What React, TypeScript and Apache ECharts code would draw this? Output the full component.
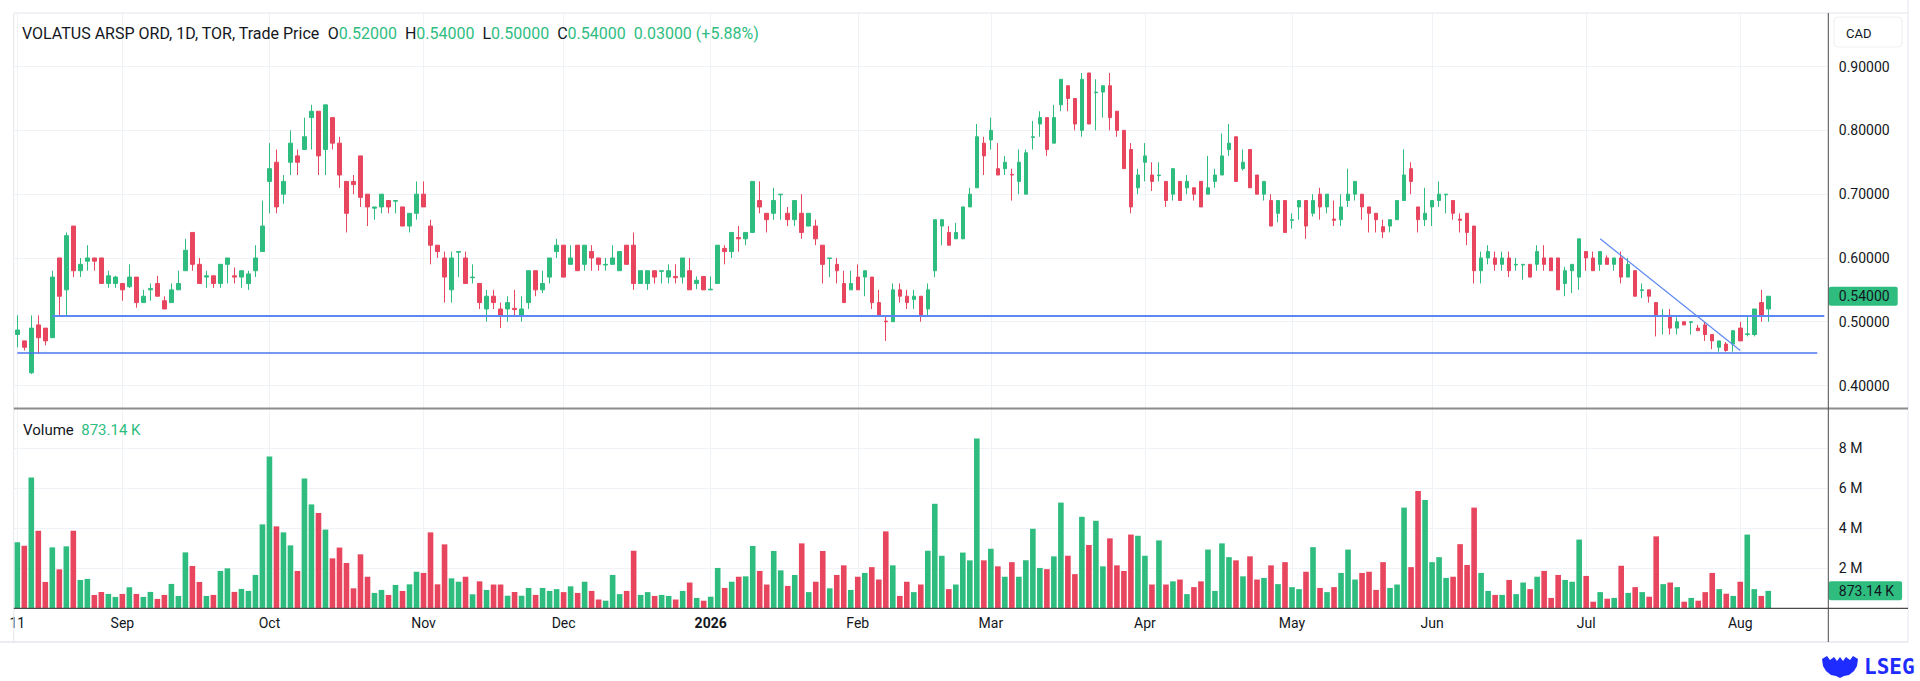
import React, { useEffect, useRef } from "react";
import * as echarts from "echarts";

// ---------- DATA ----------
const OPEN = [
  0.48, 0.47, 0.42, 0.495, 0.49, 0.475, 0.60, 0.55, 0.65, 0.58,
  0.595, 0.60, 0.60, 0.56, 0.56, 0.56, 0.555, 0.57, 0.53, 0.55,
  0.56, 0.533, 0.53, 0.55, 0.58, 0.64, 0.59, 0.57, 0.572, 0.56,
  0.59, 0.572, 0.57, 0.56, 0.58, 0.61, 0.72, 0.75, 0.70, 0.75,
  0.76, 0.77, 0.82, 0.83, 0.77, 0.82, 0.78, 0.72, 0.72, 0.76,
  0.70, 0.678, 0.68, 0.69, 0.689, 0.68, 0.65, 0.67, 0.70, 0.65,
  0.62, 0.60, 0.55, 0.609, 0.60, 0.569, 0.56, 0.52, 0.54, 0.52,
  0.52, 0.521, 0.51, 0.53, 0.58, 0.55, 0.57, 0.61, 0.62, 0.59,
  0.62, 0.59, 0.61, 0.60, 0.589, 0.59, 0.58, 0.62, 0.62, 0.56,
  0.56, 0.58, 0.579, 0.57, 0.571, 0.57, 0.58, 0.56, 0.571, 0.55,
  0.56, 0.615, 0.61, 0.632, 0.63, 0.64, 0.69, 0.67, 0.67, 0.699,
  0.67, 0.66, 0.67, 0.65, 0.65, 0.62, 0.599, 0.59, 0.56, 0.55,
  0.57, 0.57, 0.57, 0.53, 0.501, 0.50, 0.55, 0.54, 0.535, 0.54,
  0.52, 0.58, 0.65, 0.64, 0.63, 0.63, 0.68, 0.71, 0.78, 0.785,
  0.74, 0.74, 0.731, 0.72, 0.70, 0.789, 0.81, 0.82, 0.78, 0.84,
  0.87, 0.85, 0.80, 0.89, 0.859, 0.86, 0.87, 0.83, 0.80, 0.77,
  0.71, 0.75, 0.73, 0.729, 0.72, 0.70, 0.72, 0.71, 0.71, 0.72,
  0.70, 0.72, 0.73, 0.77, 0.79, 0.74, 0.77, 0.73, 0.70, 0.69,
  0.67, 0.69, 0.659, 0.68, 0.69, 0.67, 0.70, 0.68, 0.661, 0.66,
  0.69, 0.70, 0.70, 0.68, 0.67, 0.649, 0.65, 0.66, 0.69, 0.74,
  0.68, 0.66, 0.68, 0.69, 0.699, 0.69, 0.661, 0.67, 0.65, 0.58,
  0.60, 0.60, 0.59, 0.60, 0.589, 0.589, 0.59, 0.59, 0.60, 0.60,
  0.60, 0.56, 0.58, 0.57, 0.61, 0.60, 0.59, 0.60, 0.59, 0.60,
  0.57, 0.58, 0.549, 0.55, 0.53, 0.509, 0.51, 0.49, 0.50, 0.499,
  0.49, 0.495, 0.48, 0.46, 0.465, 0.465, 0.49, 0.48, 0.48, 0.53, 0.52,
];
const HIGH = [
  0.51, 0.47, 0.51, 0.51, 0.49, 0.58, 0.60, 0.64, 0.65, 0.60,
  0.62, 0.60, 0.60, 0.58, 0.572, 0.56, 0.59, 0.57, 0.55, 0.56,
  0.572, 0.54, 0.56, 0.58, 0.63, 0.64, 0.60, 0.58, 0.572, 0.59,
  0.60, 0.585, 0.58, 0.58, 0.62, 0.69, 0.78, 0.77, 0.73, 0.80,
  0.77, 0.82, 0.84, 0.83, 0.84, 0.82, 0.79, 0.72, 0.73, 0.76,
  0.70, 0.68, 0.70, 0.69, 0.69, 0.68, 0.67, 0.72, 0.72, 0.66,
  0.62, 0.61, 0.61, 0.61, 0.61, 0.59, 0.56, 0.55, 0.55, 0.53,
  0.54, 0.55, 0.54, 0.58, 0.58, 0.58, 0.60, 0.63, 0.62, 0.62,
  0.62, 0.62, 0.62, 0.60, 0.60, 0.62, 0.61, 0.62, 0.64, 0.58,
  0.58, 0.58, 0.58, 0.59, 0.59, 0.60, 0.60, 0.571, 0.571, 0.571,
  0.62, 0.62, 0.64, 0.65, 0.64, 0.72, 0.72, 0.67, 0.71, 0.70,
  0.68, 0.69, 0.70, 0.67, 0.66, 0.62, 0.60, 0.60, 0.58, 0.58,
  0.59, 0.58, 0.57, 0.55, 0.51, 0.56, 0.56, 0.55, 0.55, 0.54,
  0.56, 0.66, 0.66, 0.65, 0.655, 0.68, 0.71, 0.81, 0.79, 0.82,
  0.78, 0.76, 0.74, 0.77, 0.77, 0.815, 0.83, 0.82, 0.84, 0.88,
  0.87, 0.85, 0.89, 0.89, 0.88, 0.87, 0.89, 0.83, 0.80, 0.78,
  0.74, 0.78, 0.75, 0.75, 0.72, 0.74, 0.72, 0.73, 0.71, 0.72,
  0.76, 0.74, 0.795, 0.81, 0.79, 0.77, 0.77, 0.73, 0.72, 0.70,
  0.69, 0.69, 0.67, 0.69, 0.69, 0.70, 0.71, 0.70, 0.69, 0.70,
  0.74, 0.72, 0.70, 0.68, 0.67, 0.66, 0.66, 0.69, 0.77, 0.75,
  0.68, 0.71, 0.69, 0.72, 0.70, 0.69, 0.67, 0.67, 0.65, 0.61,
  0.62, 0.61, 0.61, 0.61, 0.60, 0.59, 0.59, 0.62, 0.62, 0.60,
  0.60, 0.586, 0.59, 0.63, 0.61, 0.61, 0.61, 0.604, 0.60, 0.61,
  0.60, 0.58, 0.56, 0.55, 0.53, 0.52, 0.52, 0.507, 0.50, 0.50,
  0.495, 0.50, 0.48, 0.47, 0.468, 0.486, 0.50, 0.51, 0.52, 0.55, 0.54,
];
const LOW = [
  0.46, 0.455, 0.418, 0.45, 0.463, 0.475, 0.51, 0.51, 0.57, 0.57,
  0.58, 0.58, 0.56, 0.553, 0.553, 0.533, 0.553, 0.522, 0.53, 0.533,
  0.54, 0.52, 0.53, 0.55, 0.58, 0.58, 0.56, 0.553, 0.553, 0.553,
  0.56, 0.56, 0.553, 0.55, 0.57, 0.61, 0.67, 0.67, 0.685, 0.73,
  0.73, 0.77, 0.77, 0.73, 0.73, 0.77, 0.71, 0.64, 0.70, 0.68,
  0.65, 0.66, 0.67, 0.67, 0.67, 0.65, 0.64, 0.66, 0.68, 0.59,
  0.60, 0.53, 0.53, 0.57, 0.56, 0.56, 0.52, 0.50, 0.52, 0.49,
  0.50, 0.51, 0.50, 0.52, 0.54, 0.545, 0.56, 0.60, 0.57, 0.59,
  0.58, 0.58, 0.58, 0.58, 0.58, 0.59, 0.58, 0.59, 0.55, 0.56,
  0.55, 0.56, 0.56, 0.56, 0.56, 0.56, 0.55, 0.551, 0.55, 0.55,
  0.56, 0.59, 0.60, 0.61, 0.62, 0.64, 0.67, 0.64, 0.66, 0.66,
  0.65, 0.65, 0.63, 0.65, 0.62, 0.56, 0.57, 0.56, 0.53, 0.55,
  0.55, 0.54, 0.52, 0.51, 0.47, 0.50, 0.53, 0.52, 0.52, 0.50,
  0.51, 0.57, 0.62, 0.62, 0.63, 0.63, 0.68, 0.71, 0.73, 0.77,
  0.73, 0.73, 0.69, 0.70, 0.70, 0.77, 0.79, 0.76, 0.78, 0.83,
  0.83, 0.80, 0.79, 0.81, 0.80, 0.82, 0.80, 0.79, 0.74, 0.67,
  0.70, 0.72, 0.705, 0.72, 0.68, 0.69, 0.69, 0.70, 0.69, 0.68,
  0.70, 0.71, 0.73, 0.76, 0.72, 0.737, 0.71, 0.70, 0.69, 0.65,
  0.656, 0.64, 0.646, 0.66, 0.63, 0.665, 0.66, 0.67, 0.65, 0.65,
  0.68, 0.69, 0.66, 0.64, 0.64, 0.631, 0.64, 0.66, 0.69, 0.70,
  0.64, 0.65, 0.65, 0.68, 0.67, 0.66, 0.64, 0.62, 0.56, 0.56,
  0.59, 0.58, 0.58, 0.57, 0.58, 0.566, 0.57, 0.58, 0.58, 0.58,
  0.55, 0.54, 0.545, 0.55, 0.58, 0.58, 0.58, 0.59, 0.58, 0.56,
  0.57, 0.54, 0.537, 0.53, 0.477, 0.48, 0.48, 0.48, 0.495, 0.48,
  0.486, 0.47, 0.457, 0.453, 0.453, 0.453, 0.47, 0.477, 0.477, 0.50, 0.50,
];
const CLOSE = [
  0.487, 0.46, 0.49, 0.475, 0.47, 0.57, 0.54, 0.635, 0.58, 0.59,
  0.60, 0.595, 0.56, 0.572, 0.57, 0.55, 0.57, 0.53, 0.54, 0.552,
  0.54, 0.52, 0.55, 0.56, 0.612, 0.59, 0.56, 0.572, 0.56, 0.59,
  0.60, 0.57, 0.58, 0.575, 0.60, 0.65, 0.74, 0.68, 0.72, 0.78,
  0.75, 0.79, 0.83, 0.76, 0.84, 0.78, 0.73, 0.67, 0.715, 0.695,
  0.68, 0.68, 0.70, 0.68, 0.69, 0.65, 0.67, 0.70, 0.68, 0.62,
  0.61, 0.57, 0.60, 0.61, 0.56, 0.57, 0.53, 0.54, 0.53, 0.51,
  0.53, 0.519, 0.52, 0.58, 0.55, 0.56, 0.60, 0.62, 0.57, 0.60,
  0.58, 0.62, 0.60, 0.59, 0.59, 0.60, 0.61, 0.59, 0.56, 0.58,
  0.58, 0.57, 0.58, 0.58, 0.569, 0.60, 0.55, 0.565, 0.55, 0.551,
  0.62, 0.61, 0.64, 0.63, 0.64, 0.72, 0.68, 0.66, 0.69, 0.70,
  0.66, 0.69, 0.64, 0.67, 0.63, 0.59, 0.60, 0.58, 0.53, 0.56,
  0.55, 0.58, 0.53, 0.51, 0.50, 0.55, 0.54, 0.53, 0.54, 0.51,
  0.55, 0.66, 0.66, 0.62, 0.64, 0.68, 0.70, 0.79, 0.76, 0.80,
  0.73, 0.75, 0.73, 0.75, 0.765, 0.79, 0.82, 0.77, 0.82, 0.88,
  0.85, 0.81, 0.88, 0.81, 0.86, 0.87, 0.82, 0.80, 0.74, 0.68,
  0.73, 0.76, 0.72, 0.73, 0.69, 0.74, 0.69, 0.72, 0.70, 0.68,
  0.71, 0.73, 0.76, 0.78, 0.72, 0.75, 0.71, 0.70, 0.72, 0.65,
  0.69, 0.64, 0.66, 0.69, 0.65, 0.69, 0.68, 0.70, 0.659, 0.68,
  0.70, 0.72, 0.68, 0.67, 0.66, 0.641, 0.66, 0.69, 0.73, 0.72,
  0.66, 0.67, 0.69, 0.70, 0.70, 0.67, 0.659, 0.64, 0.58, 0.60,
  0.61, 0.59, 0.60, 0.58, 0.59, 0.59, 0.57, 0.61, 0.59, 0.58,
  0.55, 0.58, 0.59, 0.63, 0.60, 0.58, 0.61, 0.59, 0.60, 0.57,
  0.59, 0.54, 0.55, 0.54, 0.51, 0.51, 0.49, 0.50, 0.495, 0.50,
  0.486, 0.48, 0.47, 0.47, 0.455, 0.486, 0.47, 0.481, 0.52, 0.51, 0.54,
];
// volume in millions of shares
const VOLUME_M = [
  3.3, 3.13, 6.55, 3.88, 1.32, 3.05, 1.95, 3.1, 3.88, 1.42,
  1.47, 0.67, 0.82, 0.72, 0.57, 0.72, 1.05, 0.72, 0.57, 0.82,
  0.47, 0.67, 1.22, 0.62, 2.8, 2.12, 1.32, 0.62, 0.67, 1.87,
  2.0, 0.82, 0.97, 0.87, 1.67, 4.2, 7.6, 4.1, 3.8, 3.15,
  1.87, 6.5, 5.2, 4.77, 3.94, 2.5, 3.04, 2.27, 1.0, 2.7,
  1.58, 0.77, 0.92, 0.67, 1.17, 0.87, 1.2, 1.83, 1.77, 3.8,
  1.2, 3.2, 1.5, 1.33, 1.58, 0.7, 1.35, 0.92, 1.19, 1.19,
  0.63, 0.81, 0.63, 1.02, 0.67, 1.02, 0.87, 0.96, 0.81, 1.1,
  0.77, 1.33, 0.87, 0.44, 0.38, 1.67, 0.71, 0.87, 2.88, 0.67,
  0.81, 0.62, 0.67, 0.62, 0.44, 0.87, 1.29, 0.52, 0.38, 0.58,
  2.02, 1.02, 1.33, 1.58, 1.6, 3.12, 1.87, 1.19, 2.87, 1.9,
  1.12, 1.67, 3.25, 0.81, 1.33, 2.87, 1.0, 1.67, 2.15, 0.92,
  1.58, 1.77, 2.06, 1.44, 3.85, 2.15, 0.62, 1.33, 0.81, 1.19,
  2.88, 5.23, 2.63, 0.96, 1.19, 2.79, 2.4, 8.5, 2.4, 2.98,
  2.1, 1.58, 2.31, 1.58, 2.4, 3.98, 2.02, 1.96, 2.6, 5.29,
  2.63, 1.71, 4.58, 3.17, 4.38, 2.1, 3.5, 2.15, 1.87, 3.69,
  3.63, 2.63, 1.19, 3.4, 1.19, 1.35, 1.44, 0.71, 1.06, 1.35,
  2.94, 0.87, 3.25, 2.56, 2.4, 1.6, 2.6, 1.44, 1.52, 2.15,
  1.21, 2.31, 1.06, 0.96, 1.83, 3.06, 1.02, 0.81, 1.06, 1.77,
  2.94, 1.44, 1.77, 1.83, 0.92, 2.31, 1.02, 1.19, 5.04, 2.06,
  5.87, 5.42, 2.31, 2.56, 1.52, 1.58, 3.21, 2.17, 5.04, 1.77,
  0.87, 0.67, 0.67, 1.42, 0.71, 1.29, 0.96, 1.58, 1.87, 0.52,
  1.67, 1.42, 1.33, 3.44, 1.62, 0.33, 0.81, 0.48, 0.52, 2.13,
  0.77, 1.06, 0.81, 0.58, 3.6, 1.21, 1.29, 1.06, 0.33, 0.52,
  0.38, 0.81, 1.77, 0.96, 0.73, 0.62, 1.33, 3.69, 0.96, 0.62, 0.87314,
];

const FIRST_SESSION = "2025-08-11";
const TSX_HOLIDAYS = [
  "2025-09-01", "2025-10-13", "2025-12-25", "2025-12-26", "2026-01-01",
  "2026-02-16", "2026-04-03", "2026-05-18", "2026-07-01", "2026-08-03",
];
const EMPTY_FUTURE_SLOTS = 8;
const MONTH_NAMES = ["Jan", "Feb", "Mar", "Apr", "May", "Jun", "Jul", "Aug", "Sep", "Oct", "Nov", "Dec"];
const PRICE_TICKS = [0.4, 0.5, 0.6, 0.7, 0.8, 0.9];
const VOLUME_TICKS_M = [2, 4, 6, 8];
const UPPER_LEVEL = 0.51;
const LOWER_LEVEL = 0.452;
const TREND_LINE = [[226, 0.63], [246, 0.455]];
const TITLE = "VOLATUS ARSP ORD, 1D, TOR, Trade Price";
const CURRENCY = "CAD";

// ---------- STYLE ----------
const GREEN = "#2ebd7f";
const RED = "#e8455e";
const TEXT = "#131722";
const GRID = "#eff2f7";
const FRAME = "#e3e6ec";
const DRAW_BLUE = "#5d88f3";
const FONT = "Roboto";

const L = 13.8;
const PLOT_R = 1827.8;
const PRICE_TOP = 13;
const SEP_Y = 408.5;
const VOL_BASE = 608.3;
const BOTTOM_Y = 642;
const FRAME_R = 1908;

function buildDates(count: number): string[] {
  const out: string[] = [];
  const [y, m, d] = FIRST_SESSION.split("-").map(Number);
  let t = Date.UTC(y, m - 1, d);
  while (out.length < count) {
    const dt = new Date(t);
    const dow = dt.getUTCDay();
    const s = dt.toISOString().slice(0, 10);
    if (dow !== 0 && dow !== 6 && !TSX_HOLIDAYS.includes(s)) out.push(s);
    t += 86400000;
  }
  return out;
}

let shapeRegistered = false;
function registerCrest() {
  if (shapeRegistered) return;
  shapeRegistered = true;
  const d =
    "M0 3 L5 0 L8 4 L12 1 L15 5 L18 1 L21 5 L24 1 L28 4 L31 0 L36 3 L35 10 L32 15 L27 19 L22 20 L18 22 L14 20 L9 19 L4 15 L1 10 Z";
  echarts.graphic.registerShape("lsegCrest", echarts.graphic.extendPath(d, {}) as any);
}

function fmtVol(v: number): string {
  return v >= 1e6 ? (v / 1e6).toFixed(2) + " M" : (v / 1e3).toFixed(2) + " K";
}

function buildOption() {
  const n = CLOSE.length;
  const dates = buildDates(n + EMPTY_FUTURE_SLOTS);
  const isBoundary = (i: number) => i === 0 || dates[i].slice(0, 7) !== dates[i - 1].slice(0, 7);
  const boundaries: number[] = [];
  dates.forEach((_, i) => { if (isBoundary(i)) boundaries.push(i); });

  const candles = CLOSE.map((c, i) => [OPEN[i], c, LOW[i], HIGH[i]]);
  const vols = VOLUME_M.map((v, i) => ({
    value: v * 1e6,
    itemStyle: { color: CLOSE[i] >= OPEN[i] ? GREEN : RED },
  }));

  const last = n - 1;
  const lastClose = CLOSE[last];
  const change = CLOSE[last] - CLOSE[last - 1];
  const pct = (change / CLOSE[last - 1]) * 100;
  const sign = change >= 0 ? "+" : "";
  const lastVol = VOLUME_M[last] * 1e6;

  const gridLine = { color: GRID, width: 1, type: "solid" };

  const header =
    `{t|${TITLE}}  {t|O}{g|${OPEN[last].toFixed(5)}}  {t|H}{g|${HIGH[last].toFixed(5)}}  ` +
    `{t|L}{g|${LOW[last].toFixed(5)}}  {t|C}{g|${CLOSE[last].toFixed(5)}}  ` +
    `{g|${change.toFixed(5)} (${sign}${pct.toFixed(2)}%)}`;

  const hLine = (x1: number, y1: number, x2: number, y2: number, stroke: string, lw: number) => ({
    type: "line",
    silent: true,
    z: 50,
    shape: { x1, y1, x2, y2 },
    style: { stroke, lineWidth: lw },
  });

  const valueTag = (text: string) => ({
    show: true, position: "end", distance: 1,
    formatter: () => text,
    backgroundColor: GREEN, color: TEXT, fontSize: 14, fontFamily: FONT,
    padding: [3, 8, 2, 10], borderRadius: 2, opacity: 1,
  });

  return {
    animation: false,
    backgroundColor: "#ffffff",
    textStyle: { fontFamily: FONT },
    grid: [
      { left: L, right: 1920 - PLOT_R, top: PRICE_TOP, height: SEP_Y - PRICE_TOP },
      { left: L, right: 1920 - PLOT_R, top: SEP_Y, height: VOL_BASE - SEP_Y },
    ],
    xAxis: [
      {
        type: "category", gridIndex: 0, data: dates, boundaryGap: true,
        axisLine: { show: false }, axisTick: { show: false }, axisLabel: { show: false },
        splitLine: { show: false },
      },
      {
        type: "category", gridIndex: 1, data: dates, boundaryGap: true,
        axisLine: { show: false }, axisTick: { show: false }, splitLine: { show: false },
        axisLabel: {
          show: true,
          interval: (i: number) => isBoundary(i),
          margin: 8,
          fontSize: 14,
          color: TEXT,
          fontFamily: FONT,
          formatter: (val: string, i: number) => {
            const [yy, mm, dd] = val.split("-").map(Number);
            if (i === 0) return String(dd);
            if (mm === 1) return `{b|${yy}}`;
            return MONTH_NAMES[mm - 1];
          },
          rich: { b: { fontWeight: "bold", fontSize: 14, color: TEXT, fontFamily: FONT } },
        },
      },
    ],
    yAxis: [
      {
        type: "value", gridIndex: 0, position: "right",
        min: 0.364, max: 0.984, interval: 0.004,
        axisLine: { show: false }, axisTick: { show: false }, splitLine: { show: false },
        axisLabel: {
          margin: 11, align: "left", fontSize: 14, color: TEXT, fontFamily: FONT,
          formatter: (v: number) =>
            PRICE_TICKS.some((p) => Math.abs(p - v) < 1e-6) ? v.toFixed(5) : "",
        },
      },
      {
        type: "value", gridIndex: 1, position: "right",
        min: 0, max: 10e6, interval: 2e6,
        axisLine: { show: false }, axisTick: { show: false }, splitLine: { show: false },
        axisLabel: {
          margin: 11, align: "left", fontSize: 14, color: TEXT, fontFamily: FONT,
          formatter: (v: number) =>
            VOLUME_TICKS_M.some((m) => Math.abs(m * 1e6 - v) < 1) ? `${v / 1e6} M` : "",
        },
      },
    ],
    series: [
      {
        type: "line", xAxisIndex: 0, yAxisIndex: 0, data: [], z: 1, silent: true,
        markLine: {
          silent: true, z: 1, symbol: ["none", "none"], label: { show: false },
          lineStyle: gridLine, emphasis: { disabled: true },
          data: [
            ...PRICE_TICKS.map((p) => ({ yAxis: p })),
            ...boundaries.map((i) => ({ xAxis: i })),
          ],
        },
      },
      {
        type: "line", xAxisIndex: 1, yAxisIndex: 1, data: [], z: 1, silent: true,
        markLine: {
          silent: true, z: 1, symbol: ["none", "none"], label: { show: false },
          lineStyle: gridLine, emphasis: { disabled: true },
          data: [
            ...VOLUME_TICKS_M.map((m) => ({ yAxis: m * 1e6 })),
            ...boundaries.map((i) => ({ xAxis: i })),
          ],
        },
      },
      {
        type: "candlestick", xAxisIndex: 0, yAxisIndex: 0, data: candles, z: 3,
        barWidth: 4, clip: false, silent: true,
        itemStyle: { color: GREEN, color0: RED, borderColor: GREEN, borderColor0: RED, borderWidth: 1 },
      },
      {
        type: "line", xAxisIndex: 0, yAxisIndex: 0, data: [], z: 6, silent: true,
        markLine: {
          silent: true, z: 6, symbol: ["none", "none"], label: { show: false },
          emphasis: { disabled: true },
          data: [
            [
              { coord: [5, UPPER_LEVEL], lineStyle: { color: DRAW_BLUE, width: 2, type: "solid" } },
              { coord: [n + EMPTY_FUTURE_SLOTS - 1, UPPER_LEVEL] },
            ],
            [
              { coord: [0, LOWER_LEVEL], lineStyle: { color: "#4a76ef", width: 1.5, type: "solid" } },
              { coord: [n + EMPTY_FUTURE_SLOTS - 2, LOWER_LEVEL] },
            ],
            [
              { coord: TREND_LINE[0], lineStyle: { color: DRAW_BLUE, width: 1.2, type: "solid" } },
              { coord: TREND_LINE[1] },
            ],
          ],
        },
      },
      {
        type: "line", xAxisIndex: 0, yAxisIndex: 0, data: [], z: 20, silent: true,
        markLine: {
          silent: true, z: 20, symbol: ["none", "none"],
          lineStyle: { color: "rgba(0,0,0,0)", width: 1, type: "solid" },
          emphasis: { disabled: true },
          label: valueTag(lastClose.toFixed(5)),
          data: [{ yAxis: lastClose }],
        },
      },
      {
        type: "bar", xAxisIndex: 1, yAxisIndex: 1, data: vols, z: 3,
        barWidth: "80%", silent: true,
      },
      {
        type: "line", xAxisIndex: 1, yAxisIndex: 1, data: [], z: 20, silent: true,
        markLine: {
          silent: true, z: 20, symbol: ["none", "none"],
          lineStyle: { color: "rgba(0,0,0,0)", width: 1, type: "solid" },
          emphasis: { disabled: true },
          label: valueTag(fmtVol(lastVol)),
          data: [{ yAxis: lastVol }],
        },
      },
    ],
    graphic: [
      hLine(L, PRICE_TOP, FRAME_R, PRICE_TOP, FRAME, 1),
      hLine(L, PRICE_TOP, L, BOTTOM_Y, FRAME, 1),
      hLine(FRAME_R, 0, FRAME_R, BOTTOM_Y, FRAME, 1),
      hLine(0, BOTTOM_Y, FRAME_R, BOTTOM_Y, FRAME, 1.5),
      hLine(L, SEP_Y, FRAME_R, SEP_Y, "#8c8c8c", 2),
      hLine(L, VOL_BASE, FRAME_R, VOL_BASE, "#4b4b4b", 1.2),
      hLine(PLOT_R + 0.5, PRICE_TOP, PLOT_R + 0.5, BOTTOM_Y, "#4b4b4b", 1),
      {
        type: "rect", silent: true, z: 50,
        shape: { x: 1834, y: 17, width: 68, height: 30, r: 4 },
        style: { fill: "#fff", stroke: "#eef0f3", lineWidth: 1 },
      },
      {
        type: "text", silent: true, z: 51, x: 1846, y: 33,
        style: { text: CURRENCY, fill: TEXT, fontSize: 13, fontFamily: FONT, verticalAlign: "middle" },
      },
      {
        type: "text", silent: true, z: 51, x: 22, y: 33,
        style: {
          text: header, fontSize: 16, fontFamily: FONT, verticalAlign: "middle", fill: TEXT,
          rich: {
            t: { fill: TEXT, fontSize: 16, fontFamily: FONT },
            g: { fill: GREEN, fontSize: 16, fontFamily: FONT },
          },
        },
      },
      {
        type: "text", silent: true, z: 51, x: 23, y: 430,
        style: {
          text: `{t|Volume}  {g|${fmtVol(lastVol)}}`, fontSize: 15, fontFamily: FONT,
          verticalAlign: "middle", fill: TEXT,
          rich: {
            t: { fill: TEXT, fontSize: 15, fontFamily: FONT },
            g: { fill: GREEN, fontSize: 15, fontFamily: FONT },
          },
        },
      },
      {
        type: "lsegCrest", silent: true, z: 51, x: 1822, y: 656, scaleX: 1, scaleY: 1,
        style: { fill: "#1e2cff" },
      },
      {
        type: "text", silent: true, z: 51, x: 1864, y: 667,
        style: {
          text: "LSEG", fill: "#1e2cff", fontSize: 21, fontWeight: "bold",
          fontFamily: "DejaVu Sans Mono", verticalAlign: "middle",
        },
      },
    ],
  };
}

export default function App() {
  const ref = useRef<HTMLDivElement>(null);
  useEffect(() => {
    registerCrest();
    const chart = echarts.init(ref.current as HTMLDivElement, null, { renderer: "svg" });
    chart.setOption(buildOption() as any);
    return () => chart.dispose();
  }, []);
  return (
    <div
      ref={ref}
      style={{ position: "fixed", left: 0, top: 0, width: 1920, height: 681, background: "#fff" }}
    />
  );
}
